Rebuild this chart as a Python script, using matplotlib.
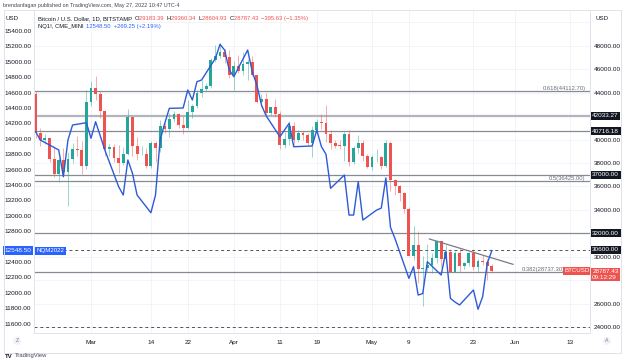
import pandas as pd
import matplotlib.pyplot as plt
import matplotlib.transforms as mtransforms
from matplotlib.patches import Rectangle

plt.rcParams['font.family'] = ['Liberation Sans', 'DejaVu Sans']

# BTCUSD daily candles (Bitstamp), one per day from 17 Feb 2022
btc_start = '2022-02-17'
btc_open = [43880, 40550, 40000, 40100, 38360, 37020, 38250, 37260, 38340, 39220,
            39120, 37710, 43180, 44420, 43900, 42450, 39150, 39400, 38420, 37990,
            38730, 41940, 39440, 38730, 38800, 37780, 39670, 39280, 41110, 40920,
            41760, 42200, 41260, 41000, 42360, 42890, 43960, 44330, 44530, 46820,
            47120, 47450, 47070, 45530, 46280, 45810, 46400, 46600, 45500, 43170,
            43440, 42270, 42760, 42160, 39530, 40080, 41150, 39940, 40550, 40400,
            39700, 40800, 41500, 41370, 40480, 39710, 39470, 39450, 40430, 38110,
            39240, 39740, 38600, 37630, 38470, 38530, 37720, 39690, 36550, 36010,
            35470, 34040, 30080, 31010, 28930, 29030, 29280, 29860, 31330, 29850,
            30420, 28700, 30300, 29190, 29430, 30290, 29100, 29650, 29540, 29183.39]
btc_close = [40550, 40000, 40100, 38360, 37020, 38250, 37260, 38340, 39220, 39120,
             37710, 43180, 44420, 43900, 42450, 39150, 39400, 38420, 37990, 38730,
             41940, 39440, 38730, 38800, 37780, 39670, 39280, 41110, 40920, 41760,
             42200, 41260, 41000, 42360, 42890, 43960, 44330, 44530, 46820, 47120,
             47450, 47070, 45530, 46280, 45810, 46400, 46600, 45500, 43170, 43440,
             42270, 42760, 42160, 39530, 40080, 41150, 39940, 40550, 40400, 39700,
             40800, 41500, 41370, 40480, 39710, 39470, 39450, 40430, 38110, 39240,
             39740, 38600, 37630, 38470, 38530, 37720, 39690, 36550, 36010, 35470,
             34040, 30080, 31010, 28930, 29030, 29280, 29860, 31330, 29850, 30420,
             28700, 30300, 29190, 29430, 30290, 29100, 29650, 29540, 29200, 28787.43]
btc_high = [44170, 40970, 40450, 40140, 39450, 38420, 39250, 38970, 39700, 40270,
            39850, 44200, 44950, 45400, 44100, 42500, 39650, 39640, 39530, 39350,
            42590, 41960, 40240, 39480, 39300, 39910, 39860, 41690, 41450, 42300,
            42400, 42290, 42020, 43370, 43000, 44210, 45100, 44800, 46940, 48100,
            48200, 47700, 47600, 46690, 47200, 47430, 46880, 47150, 45500, 43900,
            43960, 42800, 43420, 42420, 40680, 41540, 41500, 40850, 40700, 40590,
            41110, 41740, 42190, 42970, 40800, 39980, 39920, 40620, 40800, 39450,
            40380, 39930, 38780, 38670, 39150, 38630, 39970, 39850, 36650, 36130,
            35510, 34240, 32640, 32170, 30100, 31050, 30300, 31400, 31330, 31000,
            30690, 30530, 30750, 29580, 30430, 30650, 29830, 30190, 29850, 29360.34]
btc_low = [40100, 39450, 39650, 38050, 36800, 36360, 37050, 34320, 38020, 38620,
           37030, 37450, 42850, 43350, 41850, 38600, 38600, 38100, 37160, 37860,
           38650, 38560, 38240, 38660, 37590, 37570, 38120, 38900, 40530, 40180,
           41500, 40950, 40490, 40900, 41820, 42650, 43600, 44100, 44430, 46640,
           46970, 46550, 45220, 44220, 45640, 45540, 45110, 45420, 43100, 42730,
           42120, 42120, 41880, 39200, 39250, 39560, 39570, 39770, 40000, 39550,
           38540, 40570, 40880, 39780, 39200, 39300, 39170, 38200, 37700, 37880,
           38870, 38190, 37600, 37390, 38050, 37520, 37690, 35600, 35290, 34770,
           33730, 30040, 29740, 27800, 25800, 28730, 28650, 29480, 29110, 29480,
           28670, 28700, 28730, 28950, 29250, 28900, 28680, 29300, 28020, 28604.93]

# NQ1! (CME mini) daily closes, weekdays only
nq_dates = ['2022-02-17', '2022-02-18', '2022-02-22', '2022-02-23', '2022-02-24', '2022-02-25',
            '2022-02-28', '2022-03-01', '2022-03-02', '2022-03-03', '2022-03-04',
            '2022-03-07', '2022-03-08', '2022-03-09', '2022-03-10', '2022-03-11',
            '2022-03-14', '2022-03-15', '2022-03-16', '2022-03-17', '2022-03-18',
            '2022-03-21', '2022-03-22', '2022-03-23', '2022-03-24', '2022-03-25',
            '2022-03-28', '2022-03-29', '2022-03-30', '2022-03-31', '2022-04-01',
            '2022-04-04', '2022-04-05', '2022-04-06', '2022-04-07', '2022-04-08',
            '2022-04-11', '2022-04-12', '2022-04-13', '2022-04-14',
            '2022-04-18', '2022-04-19', '2022-04-20', '2022-04-21', '2022-04-22',
            '2022-04-25', '2022-04-26', '2022-04-27', '2022-04-28', '2022-04-29',
            '2022-05-02', '2022-05-03', '2022-05-04', '2022-05-05', '2022-05-06',
            '2022-05-09', '2022-05-10', '2022-05-11', '2022-05-12', '2022-05-13',
            '2022-05-16', '2022-05-17', '2022-05-18', '2022-05-19', '2022-05-20',
            '2022-05-23', '2022-05-24', '2022-05-25', '2022-05-26', '2022-05-27']
nq_close = [14092, 13984, 13855, 13508, 13984, 14179,
            14209, 14007, 14222, 14040, 13855,
            13378, 13270, 13725, 13552, 13270,
            13040, 13270, 13984, 14200, 14396,
            14400, 14634, 14504, 14742, 14764,
            15045, 15227, 15153, 14894, 14807,
            15153, 14871, 14699, 14439, 14300,
            14027, 14114, 14201, 13897,
            13907, 14114, 13900, 13800, 13357,
            13530, 13010, 13010, 13443, 12945,
            13075, 13100, 13491, 12850, 12700,
            12188, 12339, 11971, 11990, 12404,
            12231, 12534, 11929, 11880, 11842,
            12036, 11786, 11949, 12383, 12548.5]

# drawn trendline (descending) on BTC
trend_dates = ['2022-05-13 11:00', '2022-05-31 14:00']
trend_price = [31514, 29356]

# horizontal levels on BTC scale
level_boxes = [42033.27, 40716.18, 37000.00, 32000.00]
fib_levels = [44112.70, 36425.00, 28737.30]
fib_names = ['0.618', '0.5', '0.382']
dashed_levels = [30600.00, 24000.00]

tick_dates = ['2022-03-01', '2022-03-14', '2022-03-22', '2022-04-01', '2022-04-11', '2022-04-19',
              '2022-05-01', '2022-05-09', '2022-05-23', '2022-06-01', '2022-06-13']
tick_labels = ['Mar', '14', '22', 'Apr', '11', '19', 'May', '9', '23', 'Jun', '13']
btc_ticks = [48000, 46000, 44000, 40000, 38000, 36000, 34000, 30000, 26000, 24000]
nq_ticks = [15400, 15200, 15000, 14800, 14600, 14400, 14200, 14000, 13800, 13600, 13400,
            13200, 13000, 12800, 12400, 12200, 12000, 11800, 11600]

UP, DOWN, BLUE = '#26a69a', '#ef5350', '#2d5bd8'
W, H = 624, 364

origin = pd.Timestamp(btc_start)
def days(d):
    return (pd.to_datetime(d) - origin) / pd.Timedelta('1D')

x_btc = list(range(len(btc_close)))
x_nq = list(days(nq_dates))

fig = plt.figure(figsize=(W / 100, H / 100), dpi=100)
ax = fig.add_axes([34 / W, 1 - 333 / H, 556 / W, 323 / H])
ax.set_xlim(-0.37, 120.3)
ax.set_ylim(23497, 51045)

# grid
for t in days(tick_dates):
    ax.axvline(t, color='#f0f3fa', lw=0.6, zorder=0)
for t in btc_ticks + [42000, 32000, 28000, 50000]:
    ax.axhline(t, color='#f0f3fa', lw=0.6, zorder=0)

# levels
for lv in level_boxes:
    if lv == 42033.27:
        ax.axhline(lv, color='#b2b5be', lw=1.6, zorder=1)
    else:
        ax.axhline(lv, color='#878a94', lw=0.9, zorder=1)
for lv in fib_levels:
    ax.axhline(lv, color='#878a94', lw=0.9, zorder=1)
for lv in dashed_levels:
    ax.axhline(lv, color='#50535e', lw=0.7, ls=(0, (3, 3)), zorder=1)

# candles
colors = [UP if c >= o else DOWN for o, c in zip(btc_open, btc_close)]
ax.vlines(x_btc, btc_low, btc_high, colors=colors, lw=0.6, alpha=0.55, zorder=2)
bottoms = [min(o, c) for o, c in zip(btc_open, btc_close)]
heights = [max(abs(c - o), 60) for o, c in zip(btc_open, btc_close)]
ax.bar(x_btc, heights, bottom=bottoms, width=0.62, color=colors, zorder=3)

ax.plot(list(days(trend_dates)), trend_price, color='#787b86', lw=0.9, zorder=4)

# NQ overlay on left scale
ax2 = ax.twinx()
ax2.set_ylim(11478, 15673)
ax2.plot(x_nq, nq_close, color=BLUE, lw=1.0, zorder=5)

# axes styling
ax.set_xticks(list(days(tick_dates)))
ax.set_xticklabels(tick_labels)
ax.tick_params(axis='x', length=0, labelsize=4.6, pad=5, colors='#131722')
ax.yaxis.tick_right()
ax.set_yticks(btc_ticks)
ax.set_yticklabels([f'{t:.2f}' for t in btc_ticks])
ax.tick_params(axis='y', length=0, labelsize=4.6, pad=2.5, colors='#131722')
ax2.yaxis.tick_left()
ax2.set_yticks(nq_ticks)
ax2.set_yticklabels([f'{t:.2f}' for t in nq_ticks])
ax2.tick_params(axis='y', length=0, labelsize=4.6, pad=2, colors='#131722')
for a in (ax, ax2):
    for s in a.spines.values():
        s.set_color('#e0e3eb')
        s.set_linewidth(0.7)
    a.spines['top'].set_visible(False)

tr = mtransforms.blended_transform_factory(ax.transAxes, ax.transData)
tr2 = mtransforms.blended_transform_factory(ax2.transAxes, ax2.transData)
box = dict(boxstyle='square,pad=0.25', ec='none')

for lv in level_boxes + [dashed_levels[0]]:
    ax.text(1.004, lv, f'{lv:.2f}', transform=tr, ha='left', va='center', fontsize=4.6,
            color='white', bbox=dict(box, fc='#131722'), zorder=10, clip_on=False)
for lv, nm in zip(fib_levels, fib_names):
    xr = 0.955 if nm == '0.382' else 0.992
    ax.text(xr, lv, f'{nm}({lv:.2f})', transform=tr, ha='right', va='bottom', fontsize=4.2,
            color='#6a6d78', zorder=6)

last = btc_close[-1]
ax.annotate(f'{last:.2f}\n09:12:29', (1.004, last), xycoords=tr, xytext=(0, -2.5),
            textcoords='offset points', ha='left', va='center', fontsize=4.6, color='white',
            linespacing=1.1, bbox=dict(box, fc=DOWN), zorder=10, annotation_clip=False)
ax.text(0.999, last, 'BTCUSD', transform=tr, ha='right', va='center', fontsize=4.4,
        color='white', bbox=dict(box, fc=DOWN), zorder=10)

nq_last = nq_close[-1]
ax2.text(-0.004, nq_last, f'{nq_last:.2f}', transform=tr2, ha='right', va='center', fontsize=4.6,
         color='white', bbox=dict(box, fc='#2962ff'), zorder=10, clip_on=False)
ax2.text(0.004, nq_last, 'NQM2022', transform=tr2, ha='left', va='center', fontsize=4.4,
         color='white', bbox=dict(box, fc='#2962ff'), zorder=10)

# legend lines, each piece chained after the previous one
dark = '#131722'
line1 = [('Bitcoin / U.S. Dollar, 1D, BITSTAMP  ', dark), ('O', dark), ('29183.39  ', DOWN),
         ('H', dark), ('29360.34  ', DOWN), ('L', dark), ('28604.93  ', DOWN), ('C', dark),
         ('28787.43  ', DOWN), ('\u2212395.63 (\u22121.35%)', DOWN)]
line2 = [('NQ1!, CME_MINI  ', dark), ('12548.50  +269.25 (+2.19%)', '#2962ff')]

for parts, yy in ((line1, 20), (line2, 28)):
    prev = ax.annotate(parts[0][0], (37.5 / W, 1 - yy / H), xycoords='figure fraction',
                       color=parts[0][1], fontsize=4.2, va='baseline', ha='left')
    for s, c in parts[1:]:
        prev = ax.annotate(s, (1, 0), xycoords=prev, color=c, fontsize=4.2,
                           va='bottom', ha='left')

fig.text(6 / W, 1 - 18 / H, 'USD', fontsize=4.4, color=dark, va='center')
fig.text(596 / W, 1 - 18 / H, 'USD', fontsize=4.4, color=dark, va='center')
fig.text(3 / W, 1 - 5 / H, 'brendanfagan published on TradingView.com, May 27, 2022 10:47 UTC-4',
         fontsize=3.9, color='#434651', va='center')
fig.text(17 / W, 1 - 341 / H, 'Z', fontsize=3.8, color='#787b86', ha='center', va='center',
         bbox=dict(boxstyle='circle,pad=0.3', fc='#f0f3fa', ec='none'))
fig.text(607 / W, 1 - 341 / H, 'A', fontsize=3.8, color='#787b86', ha='center', va='center',
         bbox=dict(boxstyle='circle,pad=0.3', fc='#f0f3fa', ec='none'))
fig.text(5 / W, 1 - 356 / H, 'TV', fontsize=4.4, color=dark, weight='bold', va='center')
fig.text(15 / W, 1 - 356 / H, 'TradingView', fontsize=4.2, color='#434651', va='center')

fig.add_artist(Rectangle((4 / W, 1 - 353 / H), 617 / W, 343 / H, transform=fig.transFigure,
                         fill=False, ec='#e0e3eb', lw=0.7))

fig.savefig('out.png', dpi=100)
